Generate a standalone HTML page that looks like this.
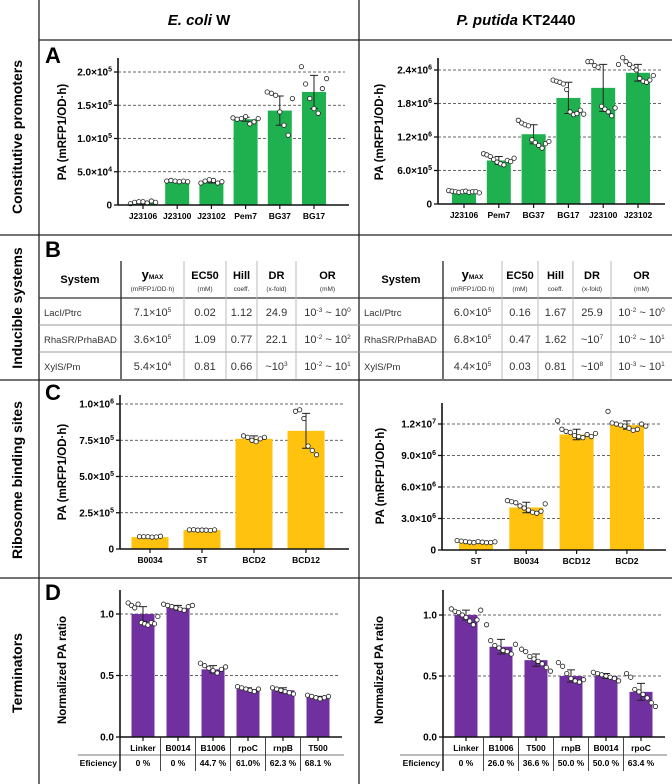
<!DOCTYPE html>
<html><head><meta charset="utf-8"><style>
html,body{margin:0;padding:0;background:#fff}
svg{display:block;font-family:"Liberation Sans",Arial,sans-serif}
</style></head><body>
<svg id="fig" width="672" height="784" viewBox="0 0 672 784" xmlns="http://www.w3.org/2000/svg">
<g stroke="#222" stroke-width="1.3">
<line x1="39" y1="0" x2="39" y2="784"/><line x1="359" y1="0" x2="359" y2="784"/>
<line x1="39" y1="40" x2="672" y2="40"/><line x1="0" y1="235" x2="672" y2="235"/>
<line x1="0" y1="380" x2="672" y2="380"/><line x1="0" y1="578" x2="672" y2="578"/>
</g>
<text x="199" y="25" text-anchor="middle" font-size="15" font-weight="bold"><tspan font-style="italic">E. coli</tspan> W</text>
<text x="516" y="25" text-anchor="middle" font-size="15" font-weight="bold"><tspan font-style="italic">P. putida</tspan> KT2440</text>
<g font-size="14" font-weight="bold" text-anchor="middle">
<text transform="translate(22,137) rotate(-90)">Constitutive promoters</text>
<text transform="translate(22,308) rotate(-90)">Inducible systems</text>
<text transform="translate(22,480) rotate(-90)">Ribosome binding sites</text>
<text transform="translate(22,673) rotate(-90)">Terminators</text>
</g>
<g font-size="22" font-weight="bold">
<text x="45" y="63">A</text>
<text x="45" y="257">B</text>
<text x="45" y="400">C</text>
<text x="45" y="600">D</text>
</g>
<g id="tables"></g>
<g id="charts"></g>
</svg>
<script>
// ---------- Panel A data ----------
const aLeftCats=["J23106","J23100","J23102","Pem7","BG37","BG17"];
const aLeftMeans=[0.03,0.35,0.35,1.29,1.42,1.70];
const aLeftSd=[0.02,0.01,0.02,0.03,0.22,0.25];
const aLeftPts=[[0.02,0.04,0.05,0.05,0.03,0.06,0.04],[0.36,0.37,0.36,0.35,0.36,0.35],[0.33,0.36,0.38,0.37,0.33,0.35],[1.31,1.29,1.30,1.33,1.22,1.25,1.30],[1.70,1.68,1.65,1.40,1.20,1.05,1.60],[2.08,1.82,1.60,1.45,1.38,1.75,1.90]];
const aLeftTicks=[0,0.5,1,1.5,2];
const aLeftTickLabels=["0","5.0×10^4","1.0×10^5","1.5×10^5","2.0×10^5"];
const aRightCats=["J23106","Pem7","BG37","BG17","J23100","J23102"];
const aRightMeans=[0.22,0.78,1.25,1.90,2.08,2.35];
const aRightSd=[0.02,0.07,0.17,0.28,0.42,0.15];
const aRightPts=[[0.24,0.23,0.22,0.21,0.22,0.23,0.21,0.22,0.22,0.20],[0.90,0.88,0.85,0.80,0.75,0.72,0.70,0.78,0.76,0.82],[1.50,1.45,1.42,1.40,1.15,1.10,1.05,1.00,1.08,1.12],[2.22,2.20,2.18,2.15,2.05,1.65,1.60,1.62,1.68,1.61],[2.55,2.55,2.48,2.45,1.75,1.70,1.65,1.58,1.72,2.50],[2.62,2.55,2.50,2.45,2.40,2.25,2.20,2.18,2.22,2.30]];
const aRightTicks=[0,0.6,1.2,1.8,2.4];
const aRightTickLabels=["0","6.0×10^5","1.2×10^6","1.8×10^6","2.4×10^6"];
// ---------- Panel C data ----------
const cLeftCats=["B0034","ST","BCD2","BCD12"];
const cLeftMeans=[0.82,1.30,7.6,8.15];
const cLeftSd=[0.02,0.03,0.2,1.2];
const cLeftPts=[[0.85,0.85,0.85,0.82,0.83,0.88],[1.32,1.33,1.30,1.31,1.30,1.28,1.32],[7.8,7.7,7.5,7.4,7.6,7.7],[9.5,9.6,9.0,7.1,6.8,6.5]];
const cLeftTicks=[0,2.5,5,7.5,10];
const cLeftTickLabels=["0","2.5×10^5","5.0×10^5","7.5×10^5","1.0×10^6"];
const cRightCats=["ST","B0034","BCD12","BCD2"];
const cRightMeans=[0.75,4.05,11.0,11.9];
const cRightSd=[0.1,0.5,0.5,0.4];
const cRightPts=[[0.9,0.85,0.8,0.75,0.7,0.8,0.75,0.7,0.72,0.78],[4.7,4.6,4.5,4.2,4.0,3.8,3.6,3.5,3.7,4.4],[12.3,11.5,11.3,11.2,10.9,10.8,10.7,11.0,10.8,11.1],[13.2,12.1,12.0,11.9,11.8,11.6,11.4,11.5,12.0,11.8]];
const cRightTicks=[0,3,6,9,12];
const cRightTickLabels=["0","3.0×10^6","6.0×10^6","9.0×10^6","1.2×10^7"];
// ---------- Panel D data ----------
const dLeftCats=["Linker","B0014","B1006","rpoC","rnpB","T500"];
const dLeftEff=["0 %","0 %","44.7 %","61.0%","62.3 %","68.1 %"];
const dLeftMeans=[1.0,1.05,0.55,0.39,0.38,0.32];
const dLeftSd=[0.06,0.02,0.03,0.01,0.02,0.01];
const dLeftPts=[[1.09,1.07,1.05,1.08,0.93,0.92,0.91,0.93,0.92,0.98],[1.08,1.07,1.06,1.05,1.04,1.03,1.06,1.07],[0.60,0.58,0.56,0.54,0.52,0.55,0.57],[0.41,0.40,0.39,0.38,0.37,0.39],[0.40,0.39,0.38,0.37,0.36,0.35],[0.34,0.33,0.32,0.31,0.32,0.33]];
const dRightCats=["Linker","B1006","T500","rnpB","B0014","rpoC"];
const dRightEff=["0 %","26.0 %","36.6 %","50.0 %","50.0 %","63.4 %"];
const dRightMeans=[1.0,0.74,0.63,0.50,0.50,0.37];
const dRightSd=[0.04,0.06,0.05,0.05,0.02,0.07];
const dRightPts=[[1.05,1.03,1.02,1.0,0.98,0.95,0.92,0.96,1.04],[0.92,0.79,0.75,0.73,0.71,0.70,0.68,0.76],[0.72,0.70,0.66,0.64,0.62,0.60,0.57,0.54],[0.61,0.58,0.52,0.48,0.46,0.45,0.47],[0.53,0.52,0.51,0.50,0.49,0.48,0.46],[0.52,0.49,0.39,0.37,0.35,0.32,0.28,0.25]];
const dTicks=[0,0.5,1];
const dTickLabels=["0.0","0.5","1.0"];
// ---------- Table B data ----------
const tblHead=["System","y|MAX","EC50","Hill","DR","OR"];
const tblSub=["","(mRFP1/OD·h)","(mM)","coeff.","(x-fold)","(mM)"];
const tblLeftRows=[["LacI/Ptrc","7.1×10^5","0.02","1.12","24.9","10^-3 ~ 10^0"],["RhaSR/PrhaBAD","3.6×10^5","1.09","0.77","22.1","10^-2 ~ 10^2"],["XylS/Pm","5.4×10^4","0.81","0.66","~10^3","10^-2 ~ 10^1"]];
const tblRightRows=[["LacI/Ptrc","6.0×10^5","0.16","1.67","25.9","10^-2 ~ 10^0"],["RhaSR/PrhaBAD","6.8×10^5","0.47","1.62","~10^7","10^-2 ~ 10^1"],["XylS/Pm","4.4×10^5","0.03","0.81","~10^8","10^-3 ~ 10^1"]];

const NS="http://www.w3.org/2000/svg";
function mk(tag,attrs,parent){const e=document.createElementNS(NS,tag);for(const k in attrs)e.setAttribute(k,attrs[k]);parent.appendChild(e);return e;}
function supText(el,str,supSize){
  const parts=str.split(/(\^-?\d+)/);
  parts.forEach(p=>{if(!p)return;
    if(p[0]==='^'){const t=mk('tspan',{'font-size':supSize,'dy':'-4'},el);t.textContent=p.slice(1);const r=mk('tspan',{'dy':'4'},el);r.textContent='\u200b';}
    else{const t=mk('tspan',{},el);t.textContent=p;}
  });
}
const charts=document.getElementById('charts');
function chart(o){
  const g=mk('g',{},charts);
  
  
  const yMax=o.ticks[o.ticks.length-1];
  const ys=v=>o.y0-(v/yMax)*(o.y0-o.yTopTick);
  const xs=i=>o.x0+o.off+i*o.step;
  o.ticks.forEach((t,i)=>{ if(i===0)return;
    const l=mk('line',{x1:o.ax,x2:o.gridR,y1:ys(t),y2:ys(t),stroke:'#333','stroke-width':0.8,'stroke-dasharray':'3,2'},g);
    
    
  });
  o.means.forEach((m,i)=>{
    const r=mk('rect',{x:xs(i)-o.bw/2,y:ys(m),width:o.bw,height:o.y0-ys(m),fill:o.color},g);
    
    
  });
  o.means.forEach((m,i)=>{
    const x=xs(i),hi=ys(m+o.sd[i]),lo=ys(Math.max(0,m-o.sd[i]));
    const eb=mk('path',{d:`M${x},${hi}V${lo}M${x-4},${hi}H${x+4}M${x-4},${lo}H${x+4}`,stroke:'#222','stroke-width':1,fill:'none'},g);
    
    
  });
  o.pts.forEach((arr,i)=>{
    const n=arr.length,sp=Math.min(4.2,(o.bw+10)/n);
    arr.forEach((v,j)=>{
      const c=mk('circle',{cx:xs(i)+(j-(n-1)/2)*sp,cy:ys(v),r:2.2,fill:'#fff',stroke:'#222','stroke-width':0.8},g);
      
      
    });
  });
  const ya=mk('line',{x1:o.ax,x2:o.ax,y1:o.axTop,y2:o.y0,stroke:'#111','stroke-width':1.6},g);
  
  
  const xa=mk('line',{x1:o.ax,x2:o.gridR+4,y1:o.y0,y2:o.y0,stroke:'#111','stroke-width':1.6},g);
  
  
  o.ticks.forEach((t,i)=>{
    mk('line',{x1:o.ax-4,x2:o.ax,y1:ys(t),y2:ys(t),stroke:'#111','stroke-width':1.3},g);
    const tx=mk('text',{x:o.ax-6,y:ys(t)+3.5,'text-anchor':'end','font-size':10,'font-weight':'bold'},g);
    
    
    supText(tx,o.tickLabels[i],7);
  });
  o.cats.forEach((c,i)=>{
    mk('line',{x1:xs(i),x2:xs(i),y1:o.y0,y2:o.y0+4,stroke:'#111','stroke-width':1.2},g);
    const tx=mk('text',{x:xs(i),y:o.y0+14,'text-anchor':'middle','font-size':8.5,'font-weight':'bold'},g);
    
    
    tx.textContent=c;
  });
  const yl=mk('text',{transform:`translate(${o.ylx},${o.yly}) rotate(-90)`,'text-anchor':'middle','font-size':11.5,'font-weight':'bold'},g);
  
  
  yl.textContent=o.ylabel;
  if(o.eff){
    const lc='#777';
    mk('line',{x1:o.effLineL,x2:o.gridR+6,y1:o.y0+18,y2:o.y0+18,stroke:lc,'stroke-width':1},g);
    mk('line',{x1:o.ax,x2:o.ax,y1:o.y0,y2:o.y0+34,stroke:'#111','stroke-width':1.4},g);
    o.cats.forEach((c,i)=>{ if(i===0)return;
      const sx=(xs(i)+xs(i-1))/2;
      mk('line',{x1:sx,x2:sx,y1:o.y0,y2:o.y0+34,stroke:'#333','stroke-width':0.9},g);
    });
    const el=mk('text',{x:o.ax-3,y:o.y0+29,'text-anchor':'end','font-size':8.5,'font-weight':'bold'},g);
    
    
    el.textContent='Eficiency';
    o.eff.forEach((e,i)=>{
      const t=mk('text',{x:xs(i),y:o.y0+29,'text-anchor':'middle','font-size':8.5,'font-weight':'bold'},g);
      
      
      t.textContent=e;
    });
  }
}
const G='#1fb14f',Y='#ffc20e',P='#7030a0';
const paLabel='PA (mRFP1/OD·h)';
chart({name:'chart-a-ecoli',cats:aLeftCats,means:aLeftMeans,sd:aLeftSd,pts:aLeftPts,ticks:aLeftTicks,tickLabels:aLeftTickLabels,
 ax:118,x0:118,off:25,step:34.2,bw:24,y0:205,yTopTick:72,axTop:58,gridR:345,color:G,ylabel:paLabel,ylx:66,yly:132});
chart({name:'chart-a-pputida',cats:aRightCats,means:aRightMeans,sd:aRightSd,pts:aRightPts,ticks:aRightTicks,tickLabels:aRightTickLabels,
 ax:438,x0:438,off:26,step:34.8,bw:24,y0:204,yTopTick:70,axTop:58,gridR:661,color:G,ylabel:paLabel,ylx:383,yly:132});
chart({name:'chart-c-ecoli',cats:cLeftCats,means:cLeftMeans,sd:cLeftSd,pts:cLeftPts,ticks:cLeftTicks,tickLabels:cLeftTickLabels,
 ax:120,x0:120,off:30,step:52,bw:37,y0:549,yTopTick:404,axTop:395,gridR:345,color:Y,ylabel:paLabel,ylx:66,yly:472});
chart({name:'chart-c-pputida',cats:cRightCats,means:cRightMeans,sd:cRightSd,pts:cRightPts,ticks:cRightTicks,tickLabels:cRightTickLabels,
 ax:442,x0:442,off:34,step:50.3,bw:34,y0:550,yTopTick:424,axTop:403,gridR:662,color:Y,ylabel:paLabel,ylx:384,yly:476});
chart({name:'chart-d-ecoli',cats:dLeftCats,means:dLeftMeans,sd:dLeftSd,pts:dLeftPts,ticks:dTicks,tickLabels:dTickLabels,eff:dLeftEff,effLineL:78,
 ax:120,x0:120,off:23,step:35,bw:23,y0:737,yTopTick:614,axTop:590,gridR:338,color:P,ylabel:'Normalized PA ratio',ylx:66,yly:670});
chart({name:'chart-d-pputida',cats:dRightCats,means:dRightMeans,sd:dRightSd,pts:dRightPts,ticks:dTicks,tickLabels:dTickLabels,eff:dRightEff,effLineL:400,
 ax:443,x0:443,off:23,step:35,bw:23,y0:737,yTopTick:615,axTop:590,gridR:661,color:P,ylabel:'Normalized PA ratio',ylx:383,yly:670});

const tables=document.getElementById('tables');
function table(name,cols,rows){
  const g=mk('g',{},tables);
  
  
  const top=261,hb=298,rh=27,bot=379;
  const L=cols[0],R=cols[cols.length-1];
  mk('line',{x1:L,x2:R,y1:hb,y2:hb,stroke:'#333','stroke-width':1.3},g);
  mk('line',{x1:L,x2:R,y1:hb+rh,y2:hb+rh,stroke:'#999','stroke-width':0.9},g);
  mk('line',{x1:L,x2:R,y1:hb+2*rh,y2:hb+2*rh,stroke:'#999','stroke-width':0.9},g);
  for(let i=1;i<cols.length-1;i++){
    mk('line',{x1:cols[i],x2:cols[i],y1:top,y2:bot,stroke:i===1?'#333':'#bbb','stroke-width':i===1?1.4:1},g);
  }
  for(let c=0;c<6;c++){
    const cx=(cols[c]+cols[c+1])/2;
    const h=mk('text',{x:cx,y:c===0?283:279,'text-anchor':'middle','font-size':11,'font-weight':'bold'},g);
    
    
    if(tblHead[c].includes('|')){const [a,b]=tblHead[c].split('|');const t1=mk('tspan',{'font-size':13},h);t1.textContent=a;const t2=mk('tspan',{'font-size':6.5},h);t2.textContent=b;}
    else h.textContent=tblHead[c];
    if(tblSub[c]){const s=mk('text',{x:cx,y:291,'text-anchor':'middle','font-size':6.5,fill:'#333'},g);s.textContent=tblSub[c];}
  }
  rows.forEach((r,ri)=>{
    r.forEach((v,c)=>{
      const y=hb+ri*rh+18;
      const t=mk('text',{x:c===0?cols[0]+5:(cols[c]+cols[c+1])/2,y:y,'text-anchor':c===0?'start':'middle','font-size':c===0?9.5:11,fill:'#333'},g);
      
      
      supText(t,v,6.5);
    });
  });
}
table('table-b-ecoli',[39,121,184,226,257,296,359],tblLeftRows);
table('table-b-pputida',[359,443,502,538,573,611,672],tblRightRows);
</script>
</body></html>
